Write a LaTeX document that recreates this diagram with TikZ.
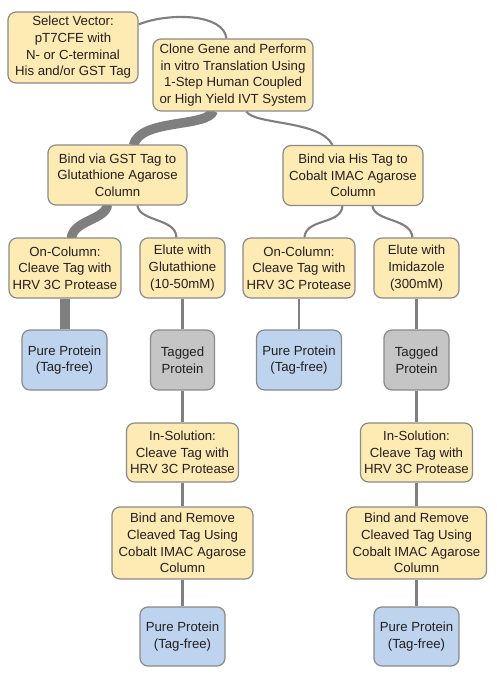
\documentclass[tikz,border=0pt]{standalone}
\usepackage{fontspec}
\setmainfont{Liberation Sans}
\usetikzlibrary{calc,backgrounds}
\definecolor{ybox}{HTML}{FEEAB3}
\definecolor{bbox}{HTML}{BDD3EE}
\definecolor{gbox}{HTML}{C5C5C6}
\definecolor{edge}{HTML}{8A8A8B}
\definecolor{conn}{HTML}{7F7F80}
\definecolor{txt}{HTML}{231F20}
\tikzset{
  boxbase/.style={draw=edge, line width=1.2pt, rounded corners=8pt, inner sep=0pt,
    align=center, text=txt, font=\fontsize{13.2}{16.7}\selectfont},
  yb/.style={boxbase, fill=ybox},
  bb/.style={boxbase, fill=bbox},
  gb/.style={boxbase, fill=gbox},
  thin/.style={draw=conn, line width=2.1pt},
  thick/.style={draw=conn, line width=9.5pt},
}
\begin{document}
\begin{tikzpicture}[x=1pt,y=-1pt]
\useasboundingbox (0,0) rectangle (496,680);
% top
\node[yb, minimum width=130, minimum height=71] (sel) at (73,47.5) {Select Vector:\\pT7CFE with\\N- or C-terminal\\His and/or GST Tag};
\node[yb, minimum width=160, minimum height=72] (clone) at (233,75) {Clone Gene and Perform\\in vitro Translation Using\\1-Step Human Coupled\\or High Yield IVT System};
% level 2
\node[yb, minimum width=139, minimum height=60] (gst) at (117.5,175) {Bind via GST Tag to\\Glutathione Agarose\\Column};
\node[yb, minimum width=140, minimum height=60] (his) at (353,175.5) {Bind via His Tag to\\Cobalt IMAC Agarose\\Column};
% level 3
\node[yb, minimum width=112, minimum height=60] (oc1) at (65,268) {On-Column:\\Cleave Tag with\\HRV 3C Protease};
\node[yb, minimum width=85, minimum height=60] (el1) at (182.5,268) {Elute with\\Glutathione\\(10-50mM)};
\node[yb, minimum width=112, minimum height=60] (oc2) at (299,268) {On-Column:\\Cleave Tag with\\HRV 3C Protease};
\node[yb, minimum width=85, minimum height=60] (el2) at (416.5,268) {Elute with\\Imidazole\\(300mM)};
% level 4
\node[bb, minimum width=85, minimum height=60] (pp1) at (64.5,360) {Pure Protein\\(Tag-free)};
\node[gb, minimum width=64, minimum height=60] (tg1) at (182.5,360) {Tagged\\Protein};
\node[bb, minimum width=85, minimum height=60] (pp2) at (299,360) {Pure Protein\\(Tag-free)};
\node[gb, minimum width=65, minimum height=60] (tg2) at (416.5,360) {Tagged\\Protein};
% level 5
\node[yb, minimum width=112, minimum height=59] (is1) at (182.5,452.5) {In-Solution:\\Cleave Tag with\\HRV 3C Protease};
\node[yb, minimum width=112, minimum height=59] (is2) at (416.5,452.5) {In-Solution:\\Cleave Tag with\\HRV 3C Protease};
% level 6
\node[yb, minimum width=141, minimum height=72] (br1) at (182.5,543) {Bind and Remove\\Cleaved Tag Using\\Cobalt IMAC Agarose\\Column};
\node[yb, minimum width=140, minimum height=72] (br2) at (416.5,543) {Bind and Remove\\Cleaved Tag Using\\Cobalt IMAC Agarose\\Column};
% level 7
\node[bb, minimum width=85, minimum height=59] (pp3) at (182.5,636.5) {Pure Protein\\(Tag-free)};
\node[bb, minimum width=85, minimum height=59] (pp4) at (416.5,636.5) {Pure Protein\\(Tag-free)};

\begin{scope}[on background layer]
\fill[white] (0,0) rectangle (496,680);
% select -> clone
\draw[thin] ($(sel.north east)+(0,13)$) .. controls (170,12) and (224,14) .. ($(clone.north west)+(74,0)$);
% clone -> gst (thick)
\draw[thick] ($(clone.south west)+(61,-1)$) .. controls (208,128) and (140,118) .. ($(gst.north west)+(86,1)$);
% clone -> his
\draw[thin] ($(clone.south west)+(94,0)$) .. controls (255,125) and (320,120) .. ($(his.north west)+(50,0)$);
% gst -> oc1 (thick)
\draw[thick] ($(gst.south west)+(60,-1)$) .. controls (106,220) and (73,220) .. ($(oc1.north west)+(63,1)$);
% gst -> el1
\draw[thin] ($(gst.south west)+(90,0)$) .. controls (140,222) and (176,218) .. ($(el1.north west)+(37,0)$);
% his -> oc2
\draw[thin] ($(his.south west)+(60,0)$) .. controls (341,225) and (306,218) .. ($(oc2.north west)+(62,0)$);
% his -> el2
\draw[thin] ($(his.south west)+(90,0)$) .. controls (375,222) and (411,218) .. ($(el2.north west)+(39,0)$);
% verticals
\draw[thick] (oc1.south) -- (oc1.south |- pp1.north);
\draw[thin] (el1.south) -- (tg1.north);
\draw[thin] (tg1.south) -- (is1.north);
\draw[thin] (is1.south) -- (br1.north);
\draw[thin] (br1.south) -- (pp3.north);
\draw[thin] (oc2.south) -- (pp2.north);
\draw[thin] (el2.south) -- (tg2.north);
\draw[thin] (tg2.south) -- (is2.north);
\draw[thin] (is2.south) -- (br2.north);
\draw[thin] (br2.south) -- (pp4.north);
\end{scope}
\end{tikzpicture}
\end{document}
